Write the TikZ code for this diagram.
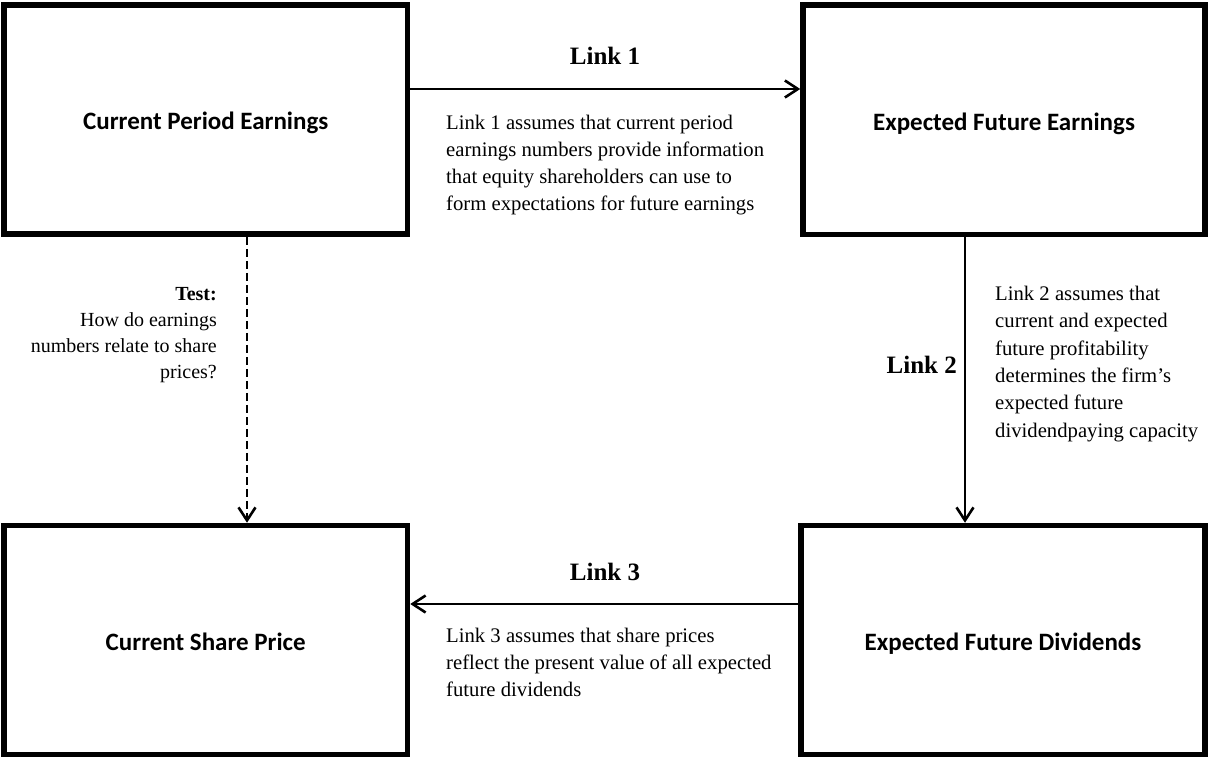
\documentclass[tikz,border=0pt]{standalone}
\usepackage{fontspec}
\setmainfont{Liberation Serif}
\newfontfamily\boxfont{Carlito}
\usetikzlibrary{arrows.meta}
\begin{document}
\begin{tikzpicture}[x=1pt,y=-1pt,
  box/.style={draw,line width=5.5pt,inner sep=0pt,align=center,text height=23pt,text depth=2pt,
    font=\boxfont\bfseries\fontsize{25}{30}\selectfont},
  arr/.style={line width=2.6pt,-{Straight Barb[length=13pt,width=17pt]}},
  dasharr/.style={arr,dash pattern=on 8pt off 4pt},
  linklabel/.style={inner sep=0pt,font=\bfseries\fontsize{25}{30}\selectfont},
  txt/.style={inner sep=0pt,align=left,font=\fontsize{20.7}{26.7}\selectfont},
  txttwo/.style={inner sep=0pt,align=left,font=\fontsize{20.7}{27.3}\selectfont},
  txtr/.style={inner sep=0pt,align=right,font=\fontsize{20}{26}\selectfont}]
\useasboundingbox (0,0) rectangle (1208,757);
\node[box,minimum width=403.5pt,minimum height=229pt] (tl) at (205.75,119.5) {Current Period Earnings};
\node[box,minimum width=402pt,minimum height=229.5pt] (tr) at (1004,119.75) {Expected Future Earnings};
\node[box,minimum width=403.5pt,minimum height=229pt] (bl) at (205.75,640) {Current Share Price};
\node[box,minimum width=404pt,minimum height=229pt] (br) at (1003,640) {Expected Future Dividends};
% Link 1
\draw[arr] ([yshift=30.5pt]tl.east) -- ([yshift=30.5pt]tl.east -| tr.west);
\node[linklabel,anchor=base] (l1) at (605,65) {Link 1};
\node[txt,anchor=base west] (t1) at (446,210) {Link 1 assumes that current period\\earnings numbers provide information\\that equity shareholders can use to\\form expectations for future earnings};
% Link 2
\draw[arr] ([xshift=-39pt]tr.south) -- ([xshift=-39pt]tr.south |- br.north);
\node[linklabel,anchor=base east] (l2) at (957,373) {Link 2};
\node[txttwo,anchor=base west] (t2) at (995,437) {Link 2 assumes that\\current and expected\\future profitability\\determines the firm's\\expected future\\dividendpaying capacity};
% Link 3
\draw[arr] ([yshift=36pt]br.west) -- ([yshift=36pt]br.west -| bl.east);
\node[linklabel,anchor=base] (l3) at (605,580) {Link 3};
\node[txt,anchor=base west] (t3) at (446,696) {Link 3 assumes that share prices\\reflect the present value of all expected\\future dividends};
% Test
\draw[dasharr] ([xshift=41.25pt]tl.south) -- ([xshift=41.25pt]tl.south |- bl.north);
\node[txtr,anchor=base east] (test) at (217,378) {\textbf{Test:}\\How do earnings\\numbers relate to share\\prices?};
\end{tikzpicture}
\end{document}
